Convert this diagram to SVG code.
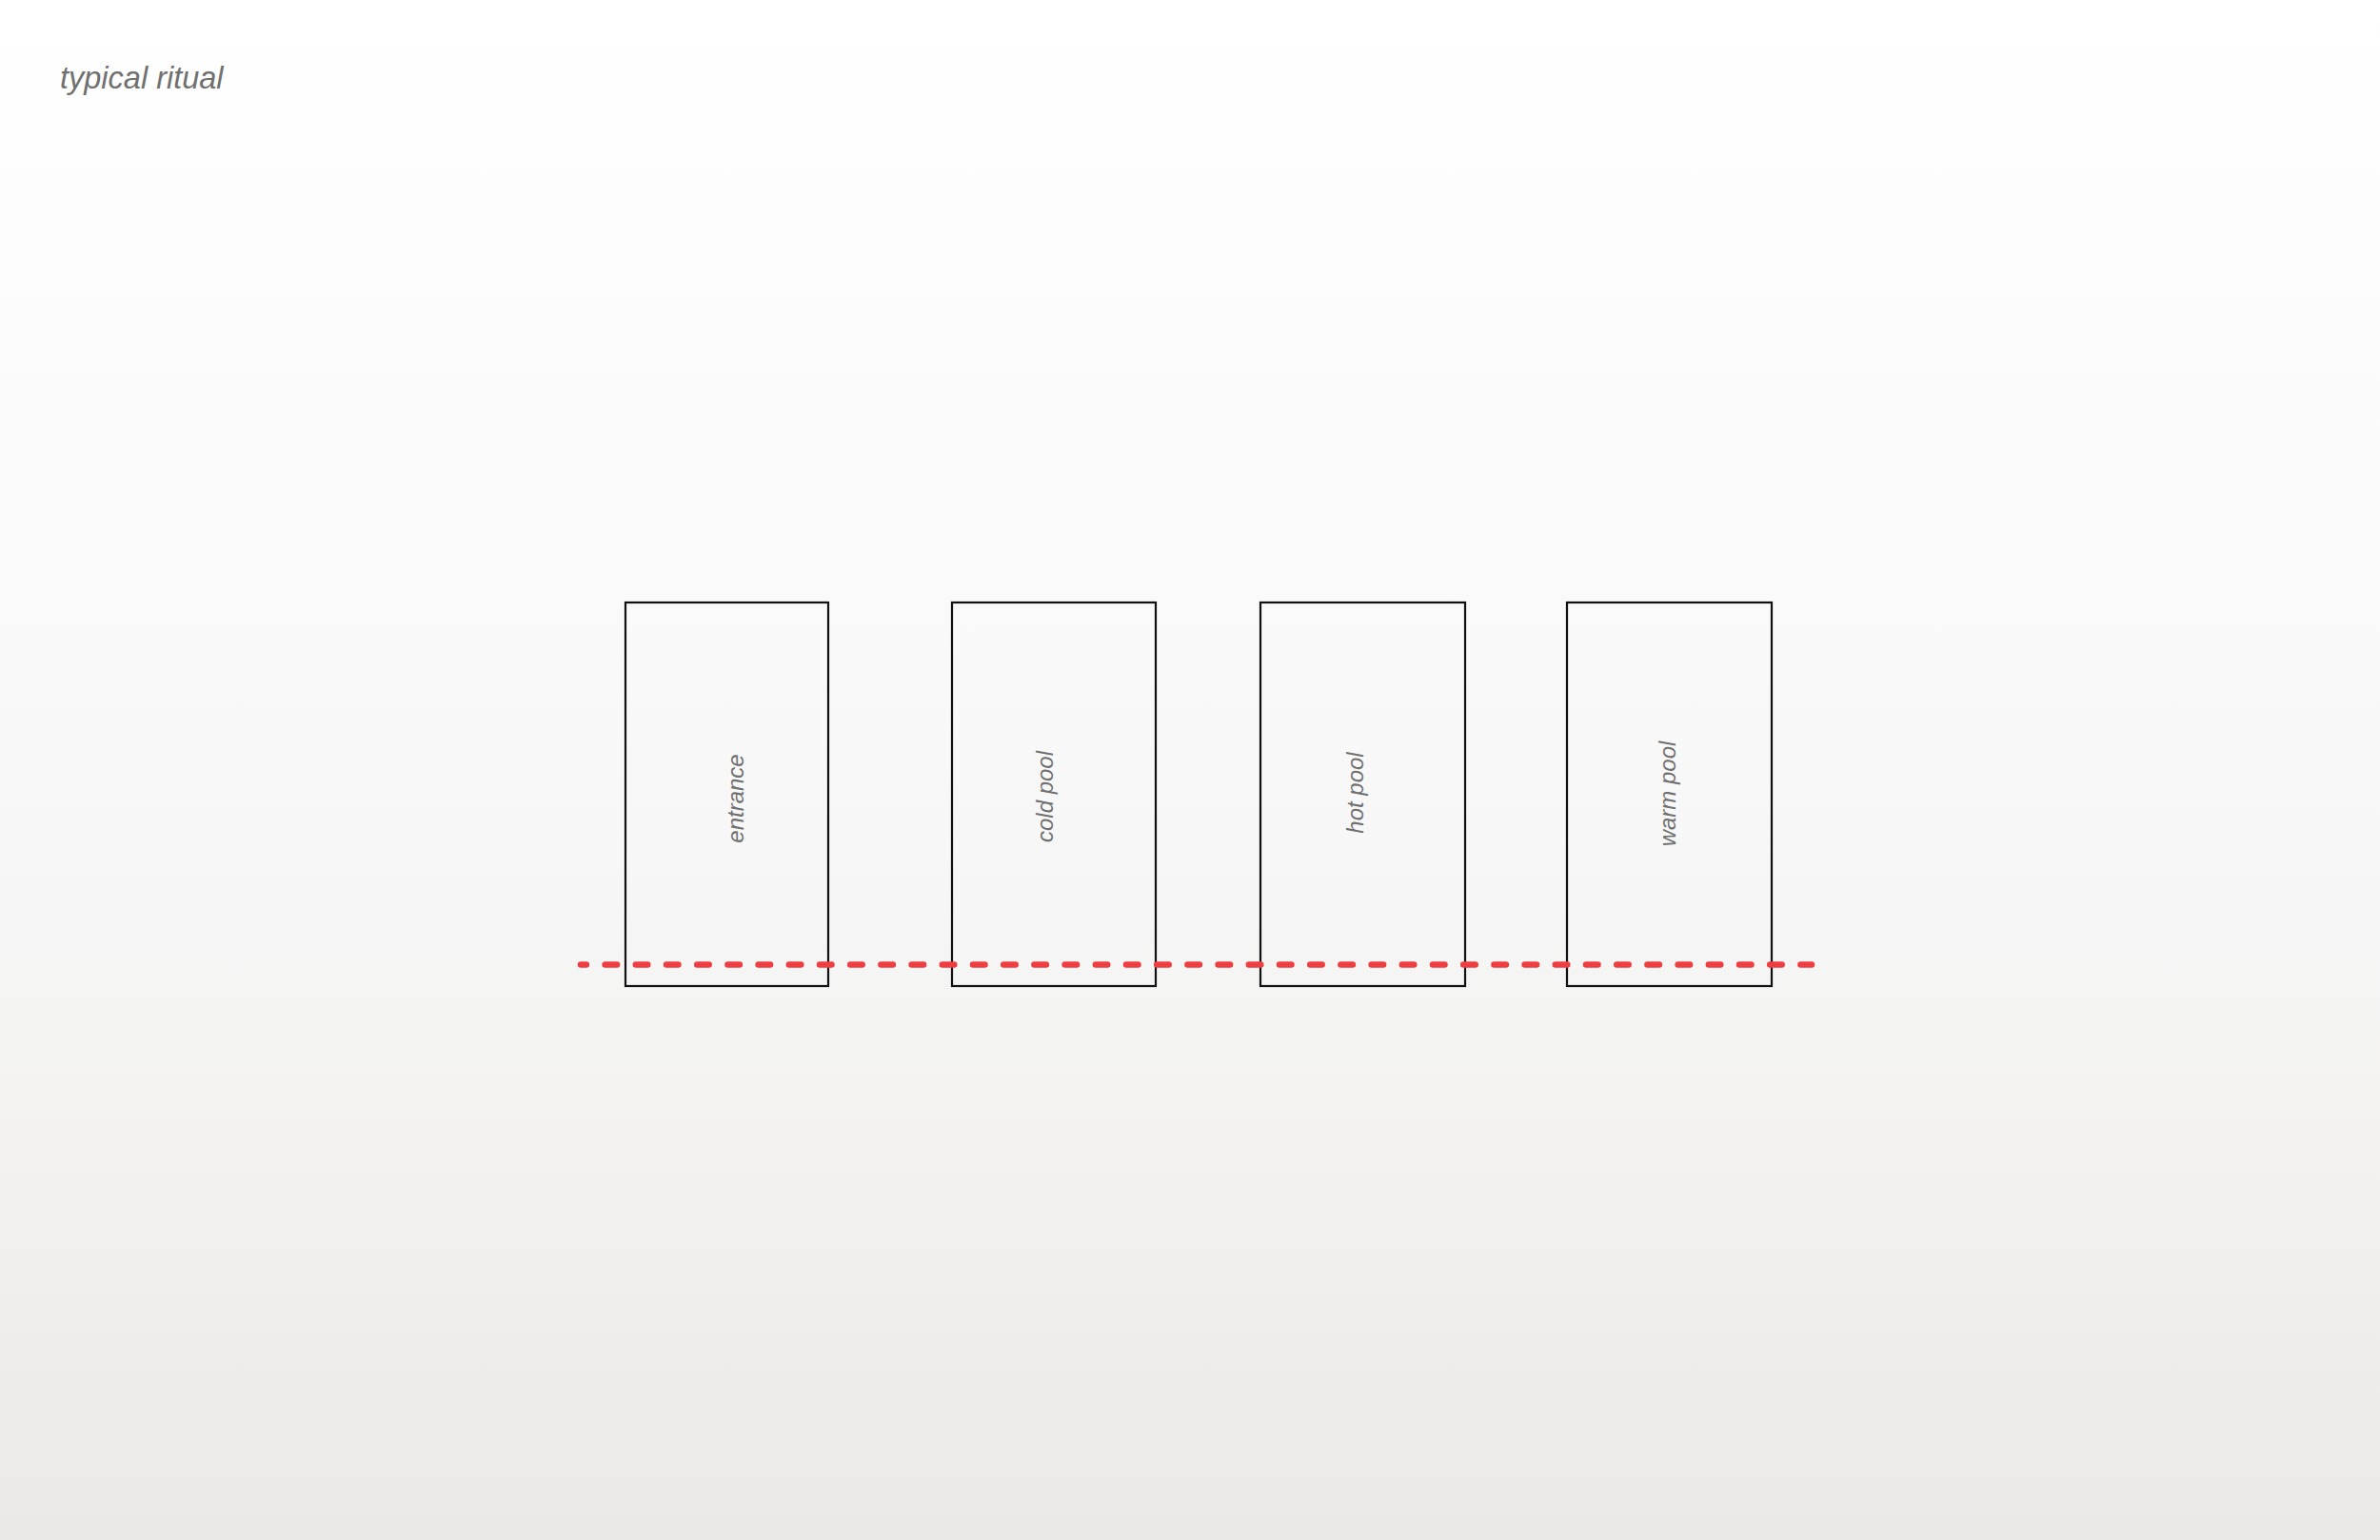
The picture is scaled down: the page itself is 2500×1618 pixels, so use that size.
<svg xmlns="http://www.w3.org/2000/svg" width="2500" height="1618" viewBox="0 0 2500 1618">
  <defs>
    <linearGradient id="bg" x1="0" y1="0" x2="0" y2="1">
      <stop offset="0" stop-color="#ffffff"/>
      <stop offset="0.5" stop-color="#f8f8f8"/>
      <stop offset="0.75" stop-color="#f3f2f1"/>
      <stop offset="1" stop-color="#ebe8e5"/>
    </linearGradient>
  </defs>
  <style>
    .box { fill: none; stroke: #111111; stroke-width: 2.2; }
    .lbl { font-family: "Liberation Sans", Arial, sans-serif; font-style: italic; font-size: 24px; fill: #707070; text-anchor: middle; }
    .title { font-family: "Liberation Sans", Arial, sans-serif; font-style: italic; font-size: 32.5px; fill: #707070; }
    .path { fill: none; stroke: #ef3e42; stroke-width: 6.5; stroke-linecap: round; stroke-dasharray: 12.5 19.7; stroke-dashoffset: 6.6; }
  </style>
  <rect x="0" y="0" width="2500" height="1618" fill="url(#bg)"/>
  <text class="title" x="63" y="93">typical ritual</text>
  <g id="node-entrance">
    <rect class="box" x="657" y="633" width="213" height="403"/>
    <text class="lbl" transform="translate(781,839) rotate(-90)">entrance</text>
  </g>
  <g id="node-cold-pool">
    <rect class="box" x="1000" y="633" width="214" height="403"/>
    <text class="lbl" transform="translate(1106,837) rotate(-90)">cold pool</text>
  </g>
  <g id="node-hot-pool">
    <rect class="box" x="1324" y="633" width="215" height="403"/>
    <text class="lbl" transform="translate(1432,833) rotate(-90)">hot pool</text>
  </g>
  <g id="node-warm-pool">
    <rect class="box" x="1646" y="633" width="215" height="403"/>
    <text class="lbl" transform="translate(1760,834) rotate(-90)">warm pool</text>
  </g>
  <g id="connectors">
    <line class="path" x1="610" y1="1013.5" x2="1903" y2="1013.5"/>
  </g>
</svg>
